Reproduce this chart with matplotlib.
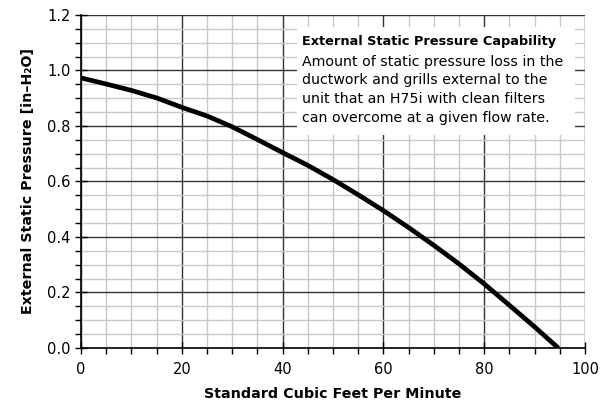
import matplotlib
matplotlib.use('Agg')
import matplotlib.pyplot as plt
from matplotlib.patches import Rectangle
from matplotlib.ticker import MultipleLocator
import numpy as np

# flow rate (SCFM) vs available external static pressure (in-H2O)
flow = [0, 5, 10, 15, 20, 25, 30, 35, 40, 45, 50, 55, 60, 65, 70, 75, 80, 85, 90, 94.7]
pressure = [0.973, 0.951, 0.928, 0.901, 0.867, 0.836, 0.797, 0.751, 0.704, 0.658,
            0.607, 0.552, 0.495, 0.434, 0.370, 0.303, 0.231, 0.154, 0.076, 0.0]

x_label = 'Standard Cubic Feet Per Minute'
y_label = 'External Static Pressure [in\u2013H\u2082O]'
note_title = 'External Static Pressure Capability'
note_body = ('Amount of static pressure loss in the\n'
             'ductwork and grills external to the\n'
             'unit that an H75i with clean filters\n'
             'can overcome at a given flow rate.')

plt.rcParams['font.family'] = ['DejaVu Sans']

fig = plt.figure(figsize=(6.0, 4.03), dpi=100)
ax = fig.add_axes([0.135, 0.1365, 0.84, 0.8265])

# grid
ax.xaxis.set_major_locator(MultipleLocator(20))
ax.xaxis.set_minor_locator(MultipleLocator(5))
ax.yaxis.set_major_locator(MultipleLocator(0.2))
ax.yaxis.set_minor_locator(MultipleLocator(0.05))
ax.grid(which='minor', color='#c8c8c8', linewidth=1.0)
ax.grid(which='major', color='#333333', linewidth=1.0)
ax.set_axisbelow(True)

ax.plot(flow, pressure, color='black', linewidth=3.4, solid_capstyle='butt',
        solid_joinstyle='round', zorder=3)

# note box
ax.add_patch(Rectangle((0.429, 0.640), 0.551, 0.324, transform=ax.transAxes,
                       facecolor='white', edgecolor='none', zorder=2))
ax.text(0.438, 0.940, note_title, transform=ax.transAxes, fontsize=9.3,
        fontweight='bold', va='top', ha='left', zorder=4)
ax.text(0.438, 0.881, note_body, transform=ax.transAxes, fontsize=10.2,
        va='top', ha='left', linespacing=1.45, zorder=4)

ax.set_xlim(0, 100)
ax.set_ylim(0, 1.2)
ax.yaxis.set_major_formatter(plt.FormatStrFormatter('%.1f'))

ax.tick_params(which='major', direction='inout', length=8, width=1.0, labelsize=10.5,
               colors='black')
ax.tick_params(which='minor', direction='out', length=4, width=1.0)
ax.tick_params(axis='x', which='major', pad=6)

ax.set_xlabel(x_label, fontsize=10.3, fontweight='bold', labelpad=7)
ax.set_ylabel(y_label, fontsize=10.3, fontweight='bold', labelpad=9)

for spine in ['top', 'right']:
    ax.spines[spine].set_visible(False)
for spine in ['left', 'bottom']:
    ax.spines[spine].set_linewidth(1.2)

fig.savefig('out.png', dpi=100)
